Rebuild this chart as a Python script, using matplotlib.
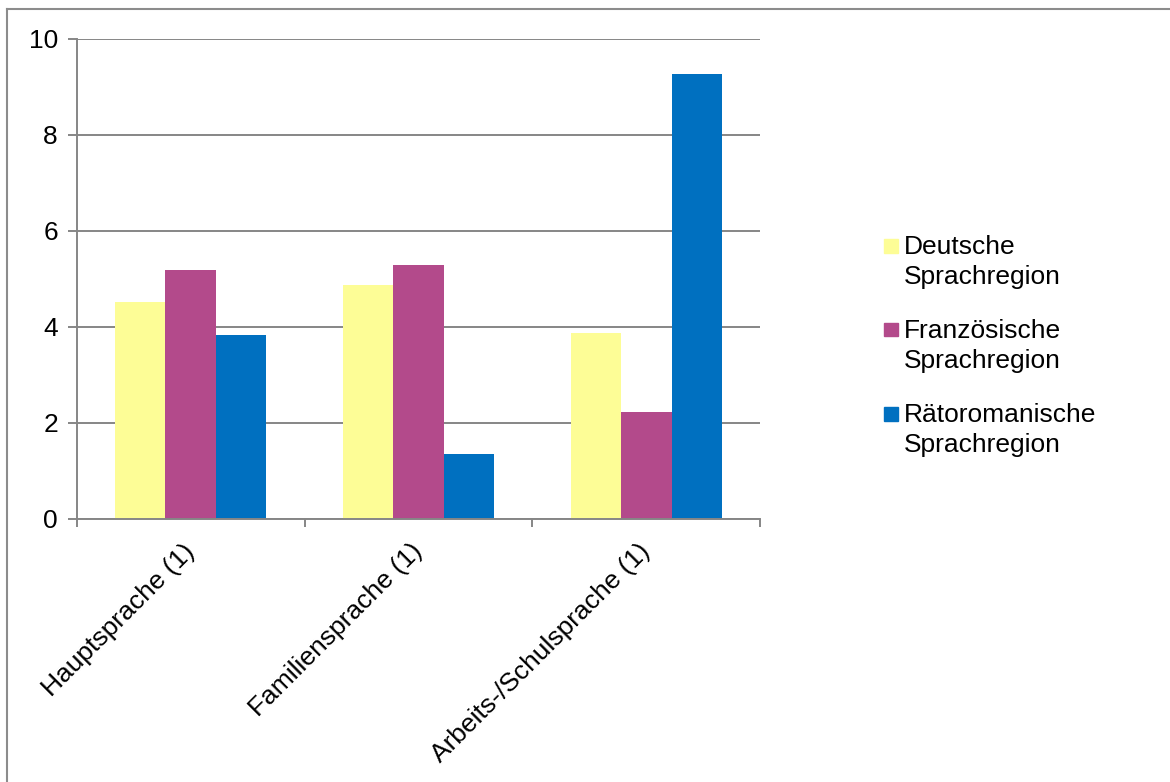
import matplotlib
matplotlib.use('Agg')
import matplotlib.pyplot as plt
import numpy as np
from matplotlib.patches import Rectangle
from matplotlib.lines import Line2D

categories = ['Hauptsprache (1)', 'Familiensprache (1)', 'Arbeits-/Schulsprache (1)']
series_names = ['Deutsche\nSprachregion', 'Französische\nSprachregion', 'Rätoromanische\nSprachregion']
deutsch = [4.52, 4.87, 3.87]
franz = [5.17, 5.28, 2.22]
raeto = [3.83, 1.35, 9.26]
colors = ['#FDFD96', '#B34A8B', '#0070C0']
y_ticks = [0, 2, 4, 6, 8, 10]

W, H = 1170, 782
plt.rcParams['font.family'] = ['Liberation Sans', 'DejaVu Sans']
gray = '#868686'

fig = plt.figure(figsize=(W / 100, H / 100), dpi=100)
ax = fig.add_axes([76.7 / W, 1 - 518.5 / H, 683.6 / W, 479.8 / H])

x = np.arange(len(categories))
bw = 0.2215
for i, vals in enumerate([deutsch, franz, raeto]):
    ax.bar(x + (i - 1) * bw, vals, width=bw, color=colors[i], zorder=3)

ax.set_xlim(-0.5, len(categories) - 0.5)
ax.set_ylim(0, 10)
ax.set_yticks(y_ticks)
ax.yaxis.grid(True, color=gray, linewidth=1.4, zorder=0)
for s in ['top', 'right']:
    ax.spines[s].set_visible(False)
for s in ['left', 'bottom']:
    ax.spines[s].set_color(gray)
    ax.spines[s].set_linewidth(1.4)
    ax.spines[s].set_zorder(4)

ax.tick_params(axis='y', length=6.5, width=1.4, color=gray, pad=7, labelsize=19)
ax.set_xticks(x)
ax.set_xticks(np.arange(-0.5, len(categories)), minor=True)
ax.tick_params(axis='x', which='major', length=0, pad=21, labelsize=19)
ax.tick_params(axis='x', which='minor', length=6, width=1.4, color=gray)
ax.set_xticklabels(categories, rotation=45, ha='right', va='center', rotation_mode='anchor')

# legend drawn by hand so the square sits on the first text line
for i, name in enumerate(series_names):
    top = 239 + i * 84
    fig.add_artist(Rectangle((884 / W, 1 - (top + 13.5) / H), 13.5 / W, 13.5 / H,
                             transform=fig.transFigure, color=colors[i]))
    fig.text(904 / W, 1 - (top - 4) / H, name, fontsize=19, va='top',
             ha='left', linespacing=1.32)

# outer frame (only top and left edge visible)
fig.add_artist(Line2D([7 / W, 7 / W], [0, 1 - 9 / H], transform=fig.transFigure, color='#8c8c8c', linewidth=1.5))
fig.add_artist(Line2D([7 / W, 1], [1 - 9 / H, 1 - 9 / H], transform=fig.transFigure, color='#8c8c8c', linewidth=1.5))

fig.savefig('out.png', dpi=100, facecolor='white')
